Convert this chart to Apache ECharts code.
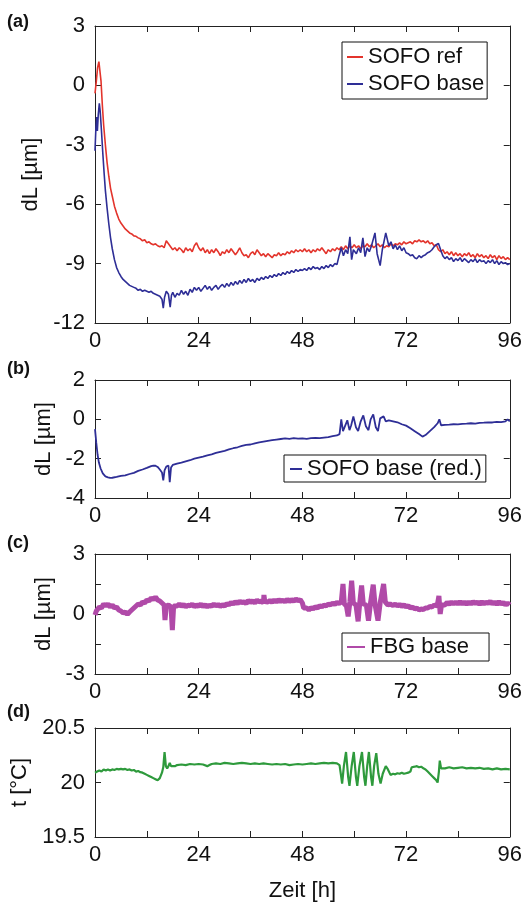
<!DOCTYPE html>
<html>
<head>
<meta charset="utf-8">
<script src="https://cdn.jsdelivr.net/npm/echarts@6/dist/echarts.min.js"></script>
<style>
html,body{margin:0;padding:0;background:#fff;}
#chart{width:525px;height:903px;}
</style>
</head>
<body>
<div id="chart"></div>
<script>
// ---------- data (time [h], value) ----------
const xTickLabels = [0, 24, 48, 72, 96];
const panelLabels = ['(a)', '(b)', '(c)', '(d)'];
const yLabelsC = [-3, 0, 3];

const sofoRef = [
[0,-0.4],[0.3,0.2],[0.6,0.9],[0.9,1.2],[1.1,1.1],[1.4,0.2],[1.7,-1.0],[2.0,-2.0],[2.4,-3.0],[2.8,-3.9],[3.2,-4.6],[3.6,-5.2],[4.0,-5.6],[4.5,-6.1],[5.0,-6.45],[5.5,-6.75],[6.0,-6.95],[6.5,-7.1],[7.0,-7.25],[7.5,-7.35],[8.0,-7.45],[8.5,-7.5],[9,-7.6],[9.5,-7.62],[10,-7.7],[10.5,-7.75],[11,-7.85],[11.5,-7.8],[12,-7.95],[12.5,-7.9],[13,-8.0],[13.5,-8.05],[14,-8.0],[14.5,-8.1],[15,-8.15],[15.5,-8.1],[16,-8.2],[16.5,-7.85],[17,-8.0],[17.5,-8.15],[18,-8.3],[18.5,-8.2],[19,-8.35],[19.5,-8.2],[20,-8.3],[20.5,-8.45],[21,-8.2],[21.5,-8.35],[22,-8.25],[22.5,-8.4],[23,-8.1],[23.5,-7.95],[24,-8.2],[24.5,-8.35],[25,-8.2],[25.5,-8.45],[26,-8.3],[26.5,-8.5],[27,-8.3],[27.5,-8.45],[28,-8.25],[28.5,-8.4],[29,-8.6],[29.5,-8.4],[30,-8.5],[30.5,-8.3],[31,-8.45],[31.5,-8.25],[32,-8.4],[32.5,-8.55],[33,-8.4],[33.5,-8.2],[34,-8.45],[34.5,-8.6],[35,-8.55],[35.5,-8.7],[36,-8.5],[36.5,-8.4],[37,-8.55],[37.5,-8.3],[38,-8.45],[38.5,-8.6],[39,-8.5],[39.5,-8.65],[40,-8.5],[40.5,-8.6],[41,-8.7],[41.5,-8.55],[42,-8.6],[42.5,-8.45],[43,-8.6],[43.5,-8.5],[44,-8.55],[44.5,-8.4],[45,-8.5],[45.5,-8.35],[46,-8.45],[46.5,-8.3],[47,-8.4],[47.5,-8.3],[48,-8.4],[48.5,-8.25],[49,-8.4],[49.5,-8.3],[50,-8.45],[50.5,-8.3],[51,-8.4],[51.5,-8.25],[52,-8.35],[52.5,-8.2],[53,-8.35],[53.5,-8.5],[54,-8.3],[54.5,-8.4],[55,-8.25],[55.5,-8.35],[56,-8.2],[56.5,-8.3],[57,-8.15],[57.5,-8.3],[58,-8.1],[58.5,-8.25],[59,-8.1],[59.5,-8.2],[60,-8.05],[60.5,-8.2],[61,-8.1],[61.5,-8.25],[62,-8.1],[62.5,-8.15],[63,-8.0],[63.5,-8.15],[64,-8.05],[64.5,-8.2],[65,-8.1],[65.5,-8.0],[66,-8.15],[66.5,-8.05],[67,-8.2],[67.5,-8.1],[68,-8.15],[68.5,-8.0],[69,-8.1],[69.5,-8.0],[70,-8.05],[70.5,-7.95],[71,-8.05],[71.5,-7.9],[72,-8.0],[72.5,-7.95],[73,-7.9],[73.5,-8.0],[74,-7.85],[74.5,-7.9],[75,-7.8],[75.5,-7.9],[76,-7.85],[76.5,-7.95],[77,-7.85],[77.5,-8.0],[78,-7.95],[78.5,-8.1],[79,-8.05],[79.5,-8.3],[80,-8.4],[80.5,-8.3],[81,-8.5],[81.5,-8.4],[82,-8.55],[82.5,-8.4],[83,-8.6],[83.5,-8.45],[84,-8.6],[84.5,-8.5],[85,-8.65],[85.5,-8.5],[86,-8.6],[86.5,-8.45],[87,-8.65],[87.5,-8.55],[88,-8.7],[88.5,-8.5],[89,-8.65],[89.5,-8.55],[90,-8.7],[90.5,-8.6],[91,-8.75],[91.5,-8.55],[92,-8.7],[92.5,-8.6],[93,-8.8],[93.5,-8.6],[94,-8.75],[94.5,-8.65],[95,-8.8],[95.5,-8.7],[96,-8.8]
];

const sofoBase = [
[0,-3.3],[0.2,-2.2],[0.4,-1.6],[0.55,-2.3],[0.75,-1.5],[1.0,-0.9],[1.2,-1.3],[1.5,-2.3],[1.8,-3.4],[2.1,-4.4],[2.4,-5.3],[2.8,-6.2],[3.2,-7.0],[3.6,-7.7],[4.0,-8.25],[4.5,-8.8],[5.0,-9.2],[5.5,-9.45],[6.0,-9.65],[6.5,-9.8],[7.0,-9.9],[7.5,-10.0],[8,-10.1],[8.5,-10.15],[9,-10.2],[9.5,-10.25],[10,-10.35],[10.5,-10.3],[11,-10.4],[11.5,-10.35],[12,-10.4],[12.5,-10.45],[13,-10.4],[13.5,-10.5],[14,-10.55],[14.5,-10.6],[15,-10.65],[15.5,-10.8],[15.8,-11.25],[16.1,-10.7],[16.5,-10.4],[17,-10.55],[17.4,-11.2],[17.7,-10.6],[18,-10.45],[18.5,-10.7],[19,-10.5],[19.5,-10.6],[20,-10.35],[20.5,-10.55],[21,-10.4],[21.5,-10.6],[22,-10.3],[22.5,-10.45],[23,-10.2],[23.5,-10.35],[24,-10.2],[24.5,-10.4],[25,-10.25],[25.5,-10.1],[26,-10.3],[26.5,-10.15],[27,-10.35],[27.5,-10.2],[28,-10.1],[28.5,-10.3],[29,-10.15],[29.5,-10.05],[30,-10.2],[30.5,-10.0],[31,-10.15],[31.5,-9.95],[32,-10.1],[32.5,-9.9],[33,-10.05],[33.5,-9.85],[34,-10.0],[34.5,-9.8],[35,-9.95],[35.5,-9.75],[36,-9.9],[36.5,-9.8],[37,-9.95],[37.5,-9.75],[38,-9.85],[38.5,-9.7],[39,-9.8],[39.5,-9.65],[40,-9.75],[40.5,-9.6],[41,-9.7],[41.5,-9.55],[42,-9.65],[42.5,-9.5],[43,-9.6],[43.5,-9.45],[44,-9.55],[44.5,-9.4],[45,-9.5],[45.5,-9.35],[46,-9.45],[46.5,-9.3],[47,-9.4],[47.5,-9.3],[48,-9.35],[48.5,-9.25],[49,-9.35],[49.5,-9.2],[50,-9.3],[50.5,-9.15],[51,-9.25],[51.5,-9.2],[52,-9.3],[52.5,-9.15],[53,-9.25],[53.5,-9.1],[54,-9.2],[54.5,-9.05],[55,-9.15],[55.5,-9.0],[56,-9.05],[56.5,-8.6],[57,-8.2],[57.5,-8.6],[58,-8.3],[58.5,-8.5],[59,-7.65],[59.4,-8.8],[59.8,-8.3],[60.5,-8.5],[61,-8.2],[61.5,-8.45],[62,-7.7],[62.5,-8.65],[63,-8.2],[63.5,-8.4],[64,-8.1],[64.8,-7.45],[65.3,-8.5],[66,-9.1],[66.5,-8.3],[67.3,-7.45],[68,-8.1],[68.5,-7.9],[69,-8.25],[69.5,-8.05],[70,-8.3],[70.5,-8.1],[71,-8.35],[71.5,-8.2],[72,-8.45],[72.5,-8.5],[73,-8.6],[73.5,-8.55],[74,-8.7],[74.5,-8.75],[75,-8.6],[75.5,-8.7],[76,-8.6],[76.5,-8.55],[77,-8.45],[77.5,-8.4],[78,-8.3],[78.5,-8.15],[79,-8.05],[79.5,-7.98],[80,-8.3],[80.5,-8.6],[81,-8.75],[81.5,-8.65],[82,-8.8],[82.5,-8.7],[83,-8.9],[83.5,-8.75],[84,-8.85],[84.5,-8.7],[85,-8.9],[85.5,-8.75],[86,-8.85],[86.5,-8.95],[87,-8.8],[87.5,-8.9],[88,-8.75],[88.5,-8.95],[89,-8.8],[89.5,-8.9],[90,-8.85],[90.5,-9.0],[91,-8.85],[91.5,-8.95],[92,-8.8],[92.5,-9.0],[93,-8.85],[93.5,-9.05],[94,-8.9],[94.5,-9.0],[95,-8.95],[95.5,-9.05],[96,-9.0]
];

const sofoBaseRed = [
[0,-0.5],[0.3,-1.2],[0.6,-1.8],[0.9,-2.2],[1.3,-2.5],[1.8,-2.75],[2.4,-2.9],[3.0,-2.95],[3.5,-2.98],[4,-2.97],[5,-2.93],[6,-2.88],[7,-2.85],[8,-2.78],[9,-2.72],[10,-2.62],[11,-2.55],[12,-2.47],[13,-2.38],[13.5,-2.35],[14,-2.36],[14.5,-2.42],[15,-2.55],[15.5,-2.7],[15.8,-3.1],[16.1,-2.6],[16.5,-2.4],[17,-2.35],[17.3,-3.2],[17.6,-2.45],[18,-2.32],[19,-2.25],[20,-2.2],[21,-2.14],[22,-2.08],[23,-2.0],[24,-1.95],[25,-1.9],[26,-1.83],[27,-1.78],[28,-1.71],[29,-1.65],[30,-1.6],[31,-1.53],[32,-1.47],[33,-1.42],[34,-1.35],[35,-1.3],[36,-1.28],[37,-1.22],[38,-1.17],[39,-1.13],[40,-1.09],[41,-1.06],[42,-1.03],[43,-1.0],[44,-0.97],[45,-0.99],[46,-0.96],[47,-0.98],[48,-0.97],[49,-0.99],[50,-0.96],[51,-0.94],[52,-0.96],[53,-0.93],[54,-0.9],[55,-0.85],[56,-0.82],[56.6,-0.75],[57.0,0.0],[57.4,-0.6],[57.8,-0.7],[58.4,-0.05],[58.9,-0.55],[59.3,-0.3],[59.8,0.15],[60.4,-0.4],[60.9,-0.6],[61.5,-0.1],[62.1,0.2],[62.7,-0.35],[63.3,-0.55],[63.8,0.0],[64.4,0.25],[65.0,-0.4],[65.5,-0.6],[66.0,0.05],[66.8,0.15],[67.3,-0.1],[68,-0.05],[69,-0.1],[70,-0.15],[71,-0.25],[72,-0.32],[73,-0.45],[74,-0.6],[75,-0.75],[75.8,-0.88],[76.5,-0.8],[77.5,-0.6],[78.5,-0.4],[79.3,-0.2],[79.7,0.0],[80.1,-0.3],[81,-0.28],[82,-0.27],[83,-0.25],[84,-0.26],[85,-0.23],[86,-0.22],[87,-0.2],[88,-0.22],[89,-0.18],[90,-0.17],[91,-0.15],[92,-0.16],[93,-0.13],[94,-0.14],[95,-0.1],[95.5,0.0],[96,-0.1]
];

const fbgBase = [
[0,-0.05],[0.3,0.15],[0.6,0.05],[1,0.35],[1.5,0.3],[2,0.5],[2.5,0.4],[3,0.5],[3.5,0.35],[4,0.45],[4.5,0.3],[5,0.35],[5.5,0.2],[6,0.15],[6.5,0.05],[7,0.1],[7.5,-0.02],[8,0.1],[8.5,0.2],[9,0.3],[9.5,0.4],[10,0.5],[10.5,0.45],[11,0.6],[11.5,0.55],[12,0.7],[12.5,0.65],[13,0.8],[13.5,0.72],[14,0.85],[14.5,0.7],[15,0.65],[15.5,0.55],[16,0.45],[16.2,-0.3],[16.5,0.4],[17,0.45],[17.6,0.35],[17.9,-0.8],[18.2,0.4],[18.5,0.5],[19,0.4],[19.5,0.5],[20,0.38],[20.5,0.48],[21,0.35],[21.5,0.45],[22,0.4],[22.5,0.5],[23,0.36],[23.5,0.46],[24,0.38],[24.5,0.5],[25,0.37],[25.5,0.47],[26,0.35],[26.5,0.45],[27,0.38],[27.5,0.5],[28,0.4],[28.5,0.48],[29,0.38],[29.5,0.46],[30,0.4],[30.5,0.52],[31,0.45],[31.5,0.58],[32,0.5],[32.5,0.62],[33,0.52],[33.5,0.65],[34,0.55],[34.5,0.62],[35,0.52],[35.5,0.68],[36,0.58],[36.5,0.66],[37,0.55],[37.5,0.7],[38,0.6],[38.5,0.65],[39,0.55],[39.1,0.95],[39.3,0.62],[39.5,0.7],[40,0.6],[40.5,0.68],[41,0.58],[41.5,0.7],[42,0.6],[42.5,0.72],[43,0.62],[43.5,0.7],[44,0.6],[44.5,0.74],[45,0.62],[45.5,0.72],[46,0.64],[46.5,0.75],[47,0.66],[47.5,0.72],[48,0.55],[48.3,0.3],[48.7,0.22],[49,0.3],[49.5,0.2],[50,0.32],[50.5,0.25],[51,0.36],[51.5,0.3],[52,0.42],[52.5,0.35],[53,0.45],[53.5,0.4],[54,0.5],[54.5,0.45],[55,0.55],[55.5,0.48],[56,0.58],[56.5,0.52],[57,0.6],[57.4,1.5],[57.7,0.5],[58.2,0.4],[58.6,-0.12],[59.0,0.6],[59.4,1.67],[59.8,0.55],[60.4,0.45],[60.9,-0.37],[61.3,0.6],[61.7,1.43],[62.1,0.5],[62.8,0.45],[63.3,-0.33],[63.8,0.6],[64.4,1.47],[64.8,0.5],[65.2,0.45],[65.5,-0.33],[66.0,0.55],[66.8,1.5],[67.2,0.6],[67.8,0.45],[68.3,0.5],[69,0.42],[69.5,0.5],[70,0.4],[70.5,0.48],[71,0.38],[71.5,0.46],[72,0.35],[72.5,0.42],[73,0.3],[73.5,0.35],[74,0.25],[74.5,0.3],[75,0.2],[75.5,0.25],[76,0.22],[76.5,0.3],[77,0.3],[77.5,0.38],[78,0.35],[78.5,0.45],[79.2,0.4],[79.6,0.9],[79.9,0.0],[80.2,0.45],[80.5,0.5],[81,0.45],[81.5,0.58],[82,0.48],[82.5,0.6],[83,0.5],[83.5,0.6],[84,0.5],[84.5,0.62],[85,0.5],[85.5,0.6],[86,0.48],[86.5,0.6],[87,0.5],[87.5,0.62],[88,0.52],[88.5,0.6],[89,0.48],[89.5,0.62],[90,0.5],[90.5,0.6],[91,0.52],[91.5,0.64],[92,0.5],[92.5,0.6],[93,0.48],[93.5,0.62],[94,0.5],[94.5,0.58],[95,0.45],[95.5,0.55],[96,0.45]
];

const tempBase = [
[0,20.09],[0.5,20.1],[1,20.11],[1.5,20.1],[2,20.12],[2.5,20.11],[3,20.12],[3.5,20.11],[4,20.12],[4.5,20.115],[5,20.125],[5.5,20.12],[6,20.125],[6.5,20.12],[7,20.125],[7.5,20.115],[8,20.12],[8.5,20.11],[9,20.115],[9.5,20.1],[10,20.105],[10.5,20.095],[11,20.09],[11.5,20.08],[12,20.07],[12.5,20.06],[13,20.05],[13.5,20.04],[14,20.03],[14.5,20.02],[15,20.04],[15.5,20.09],[15.8,20.14],[16.1,20.28],[16.4,20.15],[16.7,20.13],[17,20.15],[17.3,20.18],[17.6,20.15],[18,20.16],[18.5,20.15],[19,20.16],[20,20.165],[21,20.16],[22,20.17],[23,20.165],[24,20.17],[25,20.165],[26,20.15],[26.5,20.16],[27,20.17],[28,20.175],[29,20.17],[30,20.18],[31,20.175],[32,20.17],[33,20.175],[34,20.18],[35,20.175],[36,20.17],[37,20.175],[38,20.17],[39,20.175],[40,20.17],[41,20.165],[42,20.17],[43,20.165],[44,20.17],[45,20.16],[46,20.165],[47,20.17],[48,20.165],[49,20.17],[50,20.175],[51,20.17],[52,20.175],[53,20.18],[54,20.175],[55,20.18],[56,20.175],[56.6,20.16],[57.0,20.05],[57.2,19.99],[57.6,20.15],[58.1,20.28],[58.6,20.05],[58.9,19.97],[59.4,20.15],[59.9,20.28],[60.4,20.05],[60.7,19.97],[61.2,20.15],[61.8,20.28],[62.3,20.05],[62.6,19.97],[63.0,20.15],[63.4,20.28],[63.9,20.05],[64.2,19.97],[64.6,20.15],[65.1,20.27],[65.6,20.08],[66.1,19.99],[66.6,20.08],[67.3,20.15],[67.8,20.12],[68.4,20.07],[69,20.08],[69.5,20.075],[70,20.085],[70.5,20.08],[71,20.09],[71.5,20.08],[72,20.085],[72.5,20.09],[73,20.1],[73.3,20.14],[73.6,20.15],[74,20.145],[74.5,20.15],[75,20.14],[75.5,20.145],[76,20.13],[76.5,20.12],[77,20.1],[77.5,20.08],[78,20.06],[78.5,20.04],[79,20.02],[79.3,20.0],[79.6,20.1],[79.8,20.2],[80.1,20.13],[80.5,20.14],[81,20.13],[82,20.14],[83,20.13],[84,20.135],[85,20.14],[86,20.13],[87,20.135],[88,20.13],[89,20.135],[90,20.125],[91,20.13],[92,20.12],[93,20.13],[94,20.12],[95,20.125],[96,20.12]
];

// ---------- chart ----------
const FONT = 'Liberation Sans';
const chart = echarts.init(document.getElementById('chart'), null, {renderer: 'canvas'});

const grids = [
  {left: 95, width: 415, top: 26, height: 297},
  {left: 95, width: 415, top: 380, height: 118},
  {left: 95, width: 415, top: 554, height: 120},
  {left: 95, width: 415, top: 728, height: 119}
];
const yCfg = [
  {min: -12, max: 3, interval: 3, name: 'dL [µm]', gap: 37, fmt: v => String(v)},
  {min: -4, max: 2, interval: 2, name: 'dL [µm]', gap: 37, fmt: v => String(v)},
  {min: -3, max: 3, interval: 1.5, name: 'dL [µm]', gap: 37, fmt: v => (yLabelsC.indexOf(v) >= 0 ? String(v) : '')},
  {min: 19.5, max: 20.5, interval: 0.5, name: 't [°C]', gap: 42, fmt: v => String(v)}
];

const line = {show: true, onZero: false, lineStyle: {color: '#222', width: 1}};
const tick = {show: true, inside: true, length: 6, lineStyle: {color: '#222', width: 1}};

const xAxes = [], yAxes = [];
grids.forEach((g, i) => {
  xAxes.push({
    type: 'value', gridIndex: i, position: 'bottom', min: 0, max: 96, interval: 12,
    axisLine: line, axisTick: tick, splitLine: {show: false},
    axisLabel: {show: true, margin: 7, color: '#111', fontFamily: FONT, fontSize: 22,
      formatter: v => (xTickLabels.indexOf(v) >= 0 ? String(v) : '')},
    name: i === 3 ? 'Zeit [h]' : '', nameLocation: 'middle', nameGap: 43,
    nameTextStyle: {color: '#111', fontFamily: FONT, fontSize: 22}
  });
  xAxes.push({
    type: 'value', gridIndex: i, position: 'top', min: 0, max: 96, interval: 12,
    axisLine: line, axisTick: tick, splitLine: {show: false}, axisLabel: {show: false}
  });
  const c = yCfg[i];
  yAxes.push({
    type: 'value', gridIndex: i, position: 'left', min: c.min, max: c.max, interval: c.interval,
    axisLine: line, axisTick: tick, splitLine: {show: false},
    axisLabel: {show: true, margin: 10, color: '#111', fontFamily: FONT, fontSize: 22, formatter: c.fmt},
    name: c.name, nameLocation: 'middle', nameGap: c.gap,
    nameTextStyle: {color: '#111', fontFamily: FONT, fontSize: 22}
  });
  yAxes.push({
    type: 'value', gridIndex: i, position: 'right', min: c.min, max: c.max, interval: c.interval,
    axisLine: line, axisTick: tick, splitLine: {show: false}, axisLabel: {show: false}
  });
});

function ser(name, data, gi, color, width) {
  return {
    name: name, type: 'line', data: data, xAxisIndex: gi * 2, yAxisIndex: gi * 2,
    showSymbol: false, symbol: 'none', smooth: false, animation: false,
    lineStyle: {color: color, width: width}, itemStyle: {color: color}
  };
}

const COL_RED = '#e3342c', COL_BLUE = '#2e2e96', COL_MAG = '#b04aa8', COL_GREEN = '#2e9a3c';

const legendBase = {
  orient: 'vertical', backgroundColor: '#fff', borderColor: '#111', borderWidth: 1,
  icon: 'rect', itemWidth: 16, itemHeight: 2, itemGap: 4,
  textStyle: {color: '#111', fontFamily: FONT, fontSize: 22}
};

const option = {
  animation: false,
  backgroundColor: '#fff',
  grid: grids.map(g => Object.assign({show: false}, g)),
  xAxis: xAxes,
  yAxis: yAxes,
  legend: [
    Object.assign({}, legendBase, {data: ['SOFO ref', 'SOFO base'], left: 342, top: 42, padding: [4, 3, 4, 5], itemGap: 5}),
    Object.assign({}, legendBase, {data: ['SOFO base (red.)'], left: 284, top: 455, padding: [3, 4, 2, 6], itemWidth: 12}),
    Object.assign({}, legendBase, {data: ['FBG base'], left: 342, top: 633, padding: [3, 20, 3, 5], itemWidth: 18})
  ],
  graphic: panelLabels.map((t, i) => ({
    type: 'text', left: 7, top: [13, 360, 534, 703][i],
    style: {text: t, fontFamily: FONT, fontSize: 18, fontWeight: 'bold', fill: '#111'}
  })),
  series: [
    ser('SOFO ref', sofoRef, 0, COL_RED, 1.6),
    ser('SOFO base', sofoBase, 0, COL_BLUE, 1.6),
    ser('SOFO base (red.)', sofoBaseRed, 1, COL_BLUE, 1.8),
    ser('FBG base', fbgBase, 2, COL_MAG, 5),
    ser('t', tempBase, 3, COL_GREEN, 2.2)
  ]
};
chart.setOption(option);
</script>
</body>
</html>
